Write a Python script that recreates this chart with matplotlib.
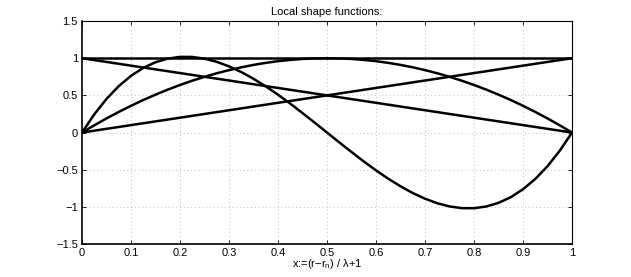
import matplotlib
matplotlib.use("Agg")
import matplotlib.pyplot as plt

plt.rcParams['font.family'] = ['Liberation Sans', 'DejaVu Sans']
plt.rcParams['mathtext.default'] = 'regular'

# sample positions
x_s = [k / 40 for k in range(41)]
# values
const_one = [1, 1]
line_x = [0, 1]
line_desc = [1, 0]
line_asc = [0, 1]
parabola = [0, 0.0975, 0.19, 0.2775, 0.36, 0.4375, 0.51, 0.5775, 0.64, 0.6975,
            0.75, 0.7975, 0.84, 0.8775, 0.91, 0.9375, 0.96, 0.9775, 0.99, 0.9975,
            1.0, 0.9975, 0.99, 0.9775, 0.96, 0.9375, 0.91, 0.8775, 0.84, 0.7975,
            0.75, 0.6975, 0.64, 0.5775, 0.51, 0.4375, 0.36, 0.2775, 0.19, 0.0975, 0]
cubic = [0, 0.245, 0.453, 0.625, 0.763, 0.870, 0.946, 0.995, 1.018, 1.017,
         0.994, 0.951, 0.890, 0.814, 0.723, 0.621, 0.509, 0.389, 0.262, 0.132,
         0, -0.132, -0.262, -0.389, -0.509, -0.621, -0.723, -0.814, -0.890, -0.951,
         -0.994, -1.017, -1.018, -0.995, -0.946, -0.870, -0.763, -0.625, -0.453, -0.245, 0]
xticks = [0, 0.1, 0.2, 0.3, 0.4, 0.5, 0.6, 0.7, 0.8, 0.9, 1]
xtick_labels = ['0', '0.1', '0.2', '0.3', '0.4', '0.5', '0.6', '0.7', '0.8', '0.9', '1']
yticks = [-1.5, -1, -0.5, 0, 0.5, 1, 1.5]
ytick_labels = ['\u22121.5', '\u22121', '\u22120.5', '0', '0.5', '1', '1.5']

fig = plt.figure(figsize=(6.31, 2.77), dpi=100)
ax = fig.add_axes([0.130, 0.119, 0.7765, 0.805])

lw = 1.8
ax.plot(line_x, const_one, color='black', lw=lw)
ax.plot(line_x, line_desc, color='black', lw=lw)
ax.plot(line_x, line_asc, color='black', lw=lw)
ax.plot(x_s, parabola, color='black', lw=lw)
ax.plot(x_s, cubic, color='black', lw=lw)

ax.set_xlim(0, 1)
ax.set_ylim(-1.5, 1.5)
ax.set_xticks(xticks)
ax.set_xticklabels(xtick_labels)
ax.set_yticks(yticks)
ax.set_yticklabels(ytick_labels)
ax.tick_params(direction='in', top=True, right=True, labelsize=8, length=3, width=0.6, pad=3)
ax.grid(True, linestyle=(0, (1, 3.5)), color='#aaaaaa', linewidth=0.6)
for s in ax.spines.values():
    s.set_linewidth(0.8)
ax.spines['bottom'].set_linewidth(1.2)
ax.spines['left'].set_linewidth(1.2)

ax.set_title('Local shape functions:', fontsize=8, pad=4)
ax.set_xlabel('x:=(r\u2212r$_n$) / \u03bb+1', fontsize=8, labelpad=-1)

fig.savefig('out.png', dpi=100)
